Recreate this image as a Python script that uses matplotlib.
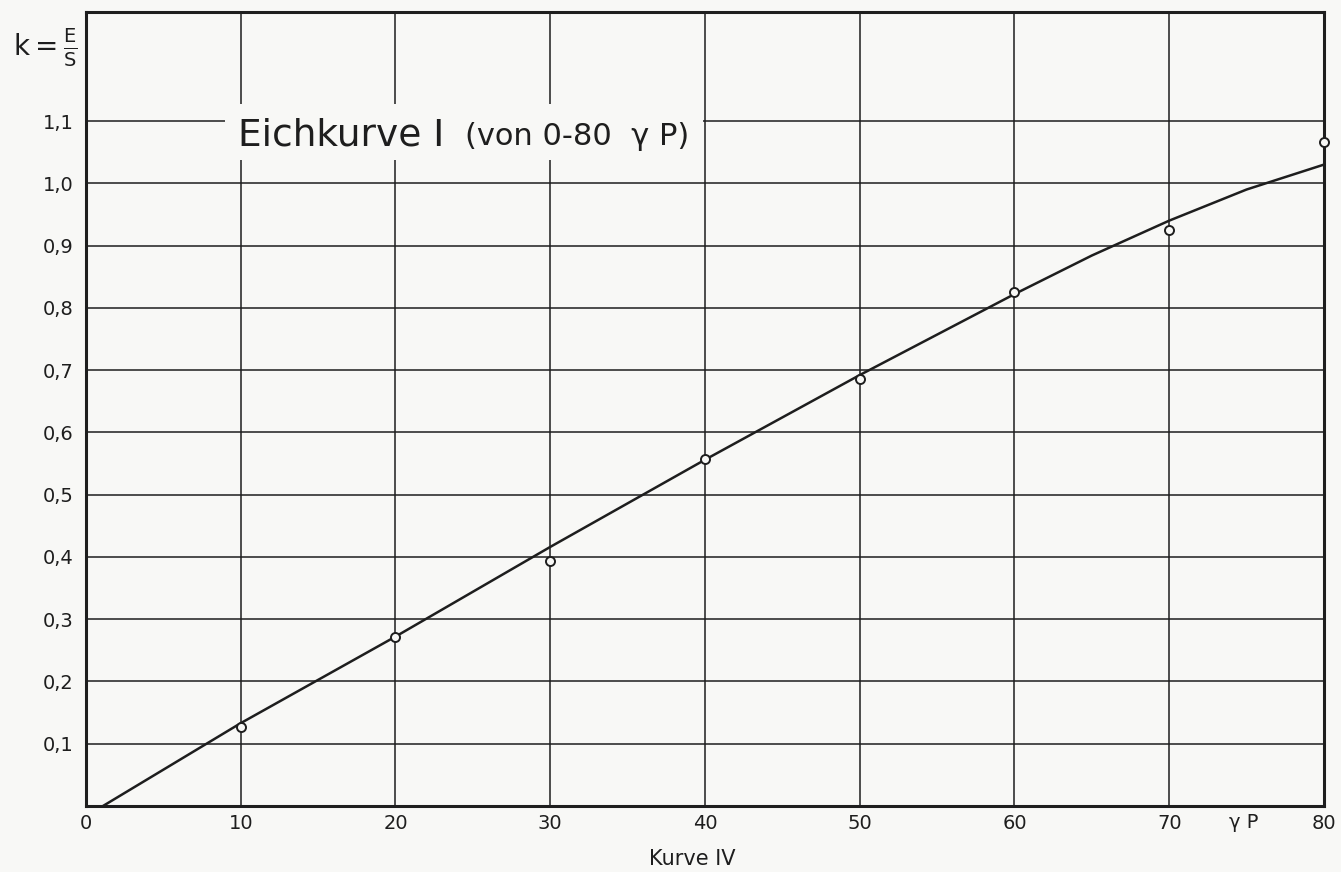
import matplotlib
matplotlib.use("Agg")
from matplotlib import pyplot as plt
from matplotlib.patches import Rectangle

# Messpunkte (gamma P, k)
x_pts = [10, 20, 30, 40, 50, 60, 70, 80]
k_pts = [0.127, 0.272, 0.393, 0.557, 0.685, 0.825, 0.925, 1.066]

x_kurve = [1.1, 10, 20, 30, 40, 50, 60, 65, 70, 75, 80]
k_kurve = [0.0, 0.133, 0.272, 0.416, 0.556, 0.692, 0.822, 0.884, 0.940, 0.990, 1.030]

x_ticks = [0, 10, 20, 30, 40, 50, 60, 70, 80]
x_labels = ["0", "10", "20", "30", "40", "50", "60", "70", "80"]
y_ticks = [0.1, 0.2, 0.3, 0.4, 0.5, 0.6, 0.7, 0.8, 0.9, 1.0, 1.1]
y_labels = ["0,1", "0,2", "0,3", "0,4", "0,5", "0,6", "0,7", "0,8", "0,9", "1,0", "1,1"]

ink = "#1e1e1e"
papier = "#f8f8f6"

plt.rcParams['mathtext.fontset'] = 'dejavusans'

fig = plt.figure(figsize=(13.41, 8.72), dpi=100, facecolor=papier)
ax = fig.add_axes([0.0641, 0.0757, 0.9232, 0.9105])
ax.set_facecolor(papier)

ax.set_xlim(0, 80)
ax.set_ylim(0, 1.275)

# Gitter
for xv in x_ticks[1:-1]:
    ax.axvline(xv, color=ink, lw=1.1, zorder=1)
for yv in y_ticks:
    ax.axhline(yv, color=ink, lw=1.1, zorder=1)

# weisses Feld hinter dem Titel (unterbricht das Gitter)
ax.add_patch(Rectangle((9.0, 1.037), 30.9, 0.09, facecolor=papier,
                       edgecolor="none", zorder=2))

ax.plot(x_kurve, k_kurve, color=ink, lw=1.8, zorder=3)
ax.plot(x_pts, k_pts, 'o', ms=6.5, mfc=papier, mec=ink, mew=1.4, zorder=4,
        clip_on=False)

for s in ax.spines.values():
    s.set_linewidth(2.2)
    s.set_color(ink)

ax.set_xticks(x_ticks)
ax.set_xticklabels(x_labels, fontsize=14, color=ink)
ax.set_yticks(y_ticks)
ax.set_yticklabels(y_labels, fontsize=14, color=ink)
ax.tick_params(axis="x", length=0, pad=6)
ax.tick_params(axis="y", length=0, pad=9)

ax.text(9.8, 1.061, "Eichkurve I", fontsize=27, color=ink, zorder=5)
ax.text(24.5, 1.061, "(von 0-80  γ P)", fontsize=22, color=ink, zorder=5)

ax.text(74.8, -0.027, "γ P", fontsize=14, color=ink, ha="center", va="center",
        clip_on=False)
ax.text(39.2, -0.085, "Kurve IV", fontsize=15, color=ink, ha="center",
        va="center", clip_on=False)

fig.text(0.010, 0.945, r"$\mathrm{k}=\frac{\mathrm{E}}{\mathrm{S}}$",
         fontsize=20, color=ink, va="center")

fig.savefig("out.png", dpi=100, facecolor=papier)
